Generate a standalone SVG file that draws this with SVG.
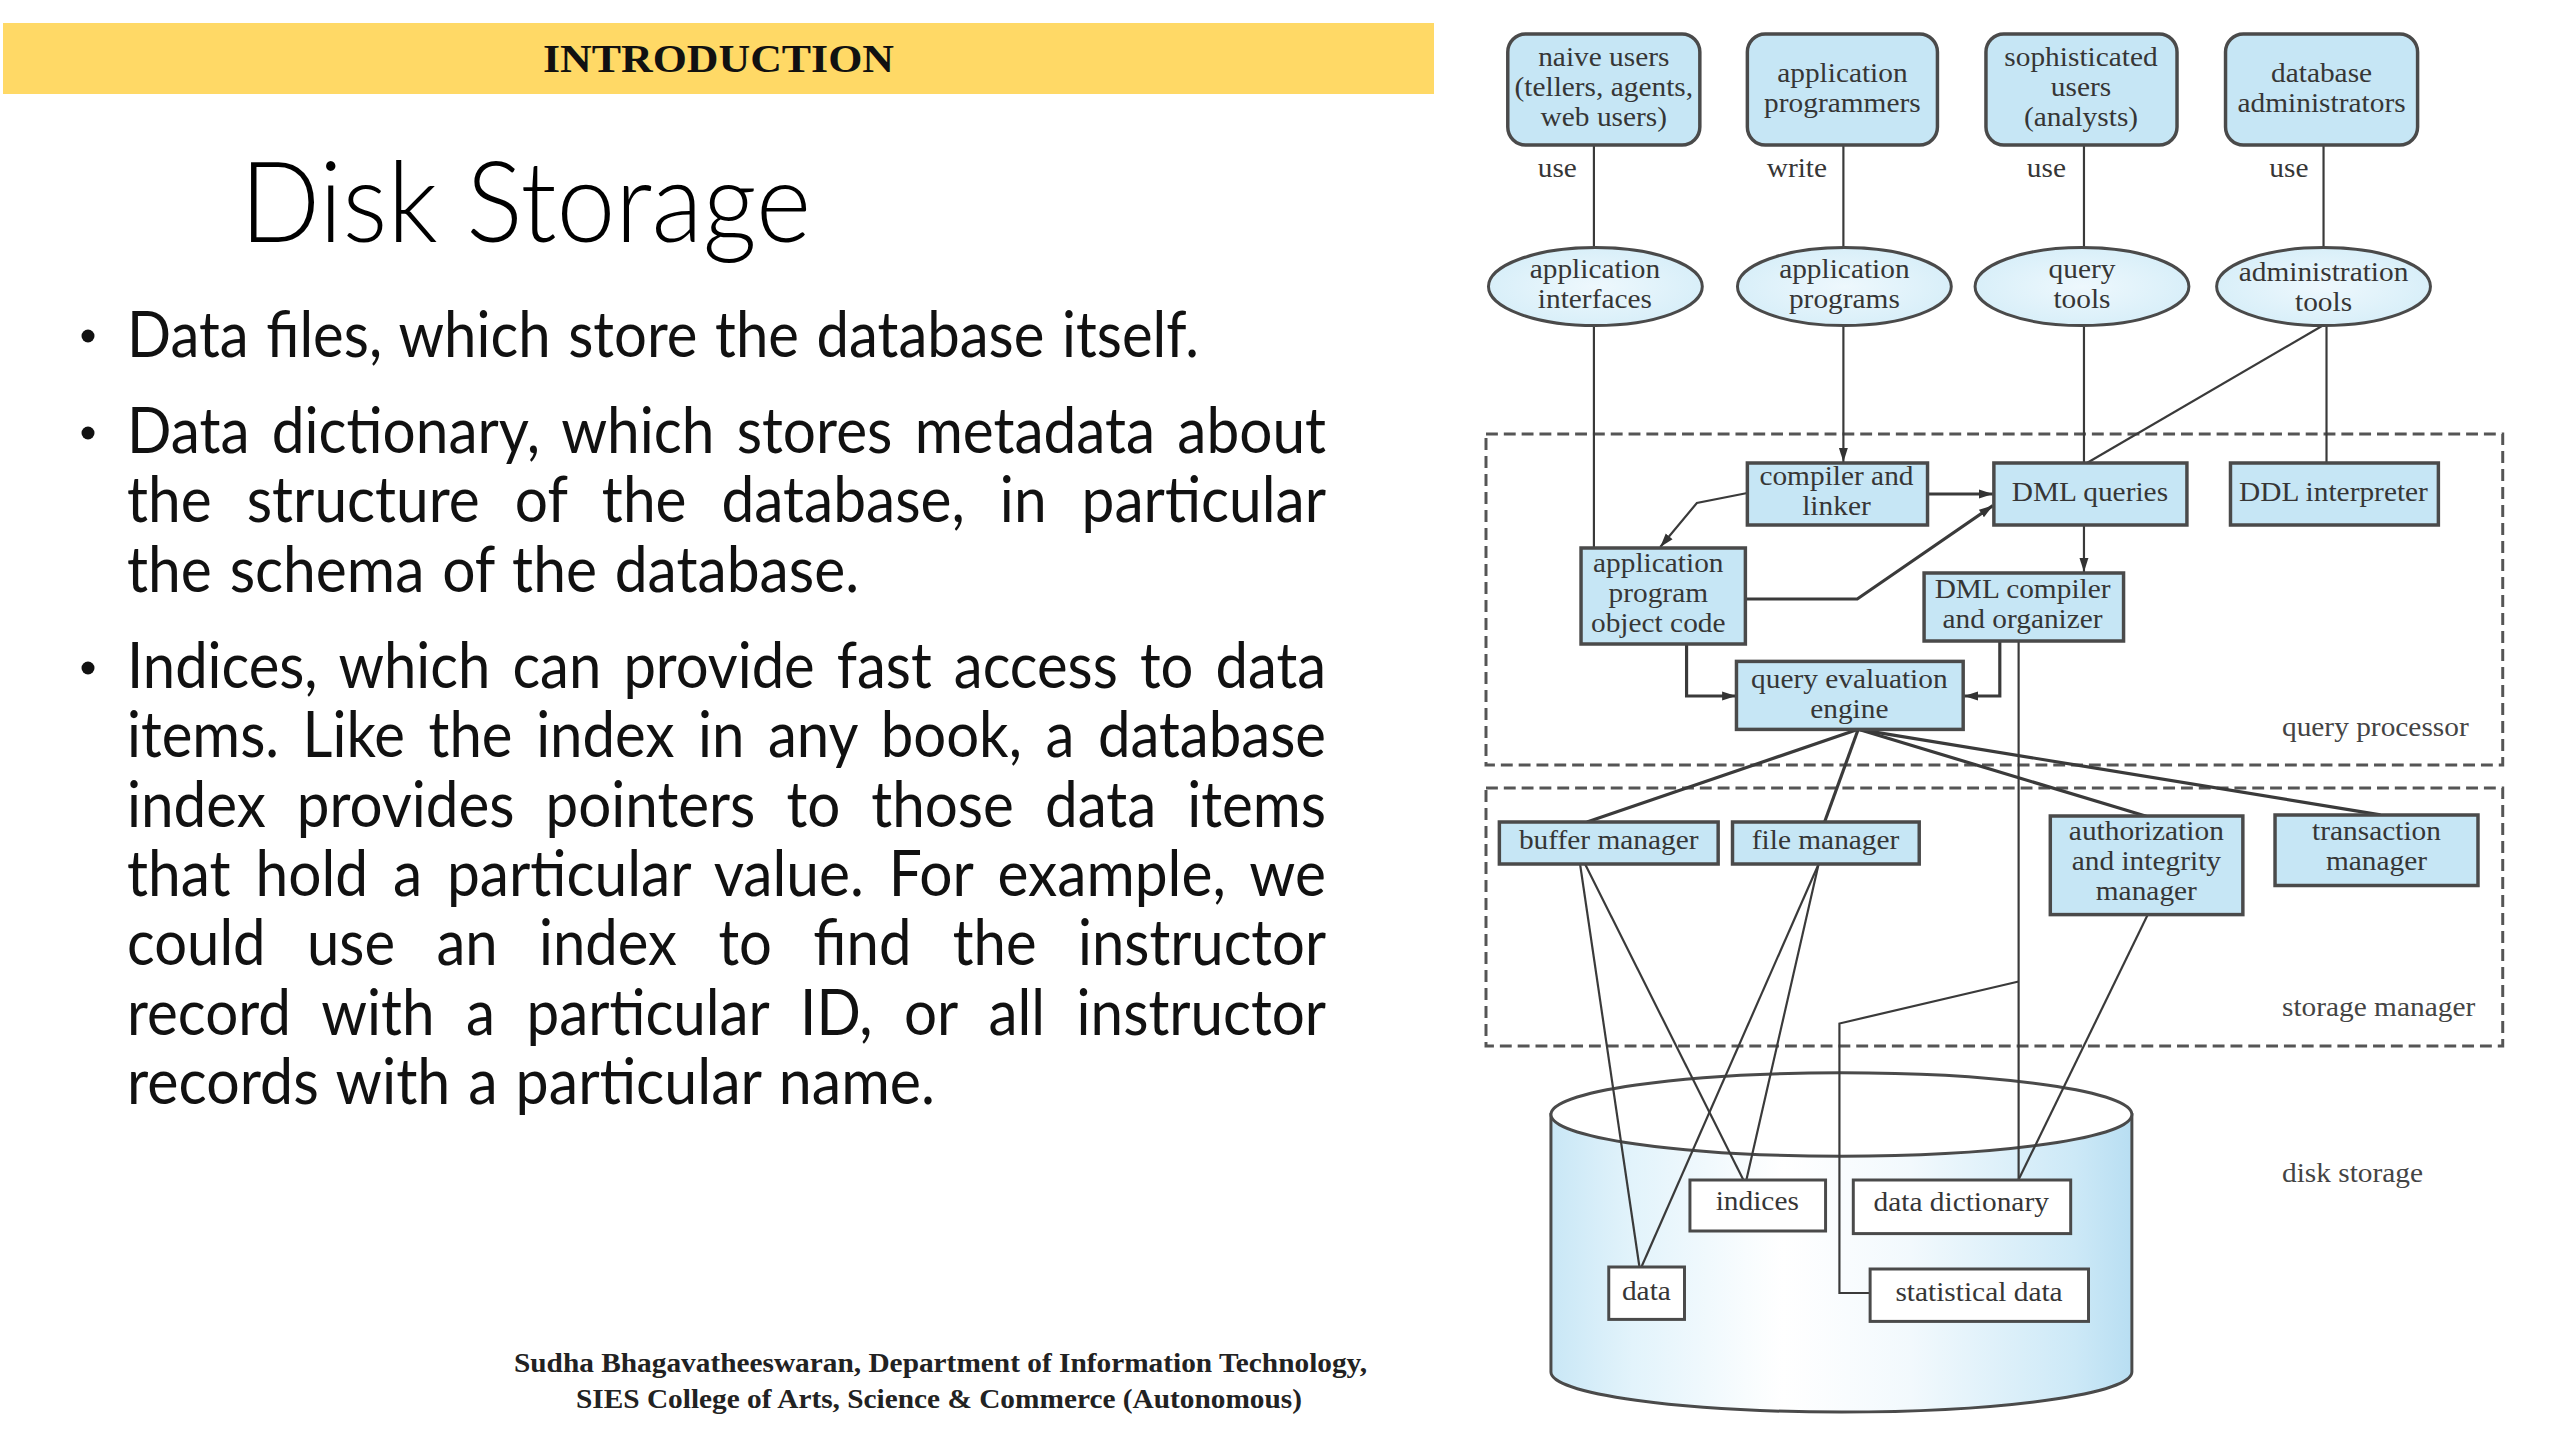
<svg xmlns="http://www.w3.org/2000/svg" width="2560" height="1440" viewBox="0 0 2560 1440">
<defs>
<style>
.body{font-family:Lato,"Open Sans",sans-serif;font-size:63.3px;fill:#111}
.lbl{font-family:"Liberation Serif","Times New Roman",serif;font-size:26.5px;fill:#363636;text-anchor:middle}
.note{font-family:"Liberation Serif","Times New Roman",serif;font-size:26.5px;fill:#444}
.ubox{fill:#c6e6f5;stroke:#4a4a4a;stroke-width:3.5}
.box{fill:#c6e6f5;stroke:#4a4a4a;stroke-width:3.5}
.wbox{fill:#ffffff;stroke:#4a4a4a;stroke-width:3}
.ell{fill:url(#ellg);stroke:#4a4a4a;stroke-width:3}
.dash{fill:none;stroke:#555;stroke-width:3;stroke-dasharray:12 6}
.ln{fill:none;stroke:#3a3a3a;stroke-width:2.2}
.lnb{fill:none;stroke:#3a3a3a;stroke-width:3.2}
</style>
<marker id="arr" markerUnits="userSpaceOnUse" markerWidth="14" markerHeight="12" viewBox="0 0 14 12" refX="14" refY="6" orient="auto">
<path d="M0,1.5 L14,6 L0,10.5 z" fill="#333"/>
</marker>
<linearGradient id="cylg" x1="0" y1="0" x2="1" y2="0">
<stop offset="0" stop-color="#c9e7f6"/>
<stop offset="0.14" stop-color="#e2f3fb"/>
<stop offset="0.4" stop-color="#ffffff"/>
<stop offset="0.62" stop-color="#f2f9fd"/>
<stop offset="0.9" stop-color="#cde9f7"/>
<stop offset="1" stop-color="#b8def2"/>
</linearGradient>
<radialGradient id="ellg" cx="0.5" cy="0.5" r="0.6">
<stop offset="0" stop-color="#eef8fd"/>
<stop offset="1" stop-color="#d4edf8"/>
</radialGradient>
</defs>
<rect x="0" y="0" width="2560" height="1440" fill="#ffffff"/>

<g id="header">
<rect x="3" y="23" width="1431" height="71" fill="#ffd966"/>
<text x="543" y="72" textLength="351" lengthAdjust="spacingAndGlyphs" style="font-family:'Liberation Serif','Times New Roman',serif;font-size:40px;font-weight:bold;fill:#111">INTRODUCTION</text>
</g>

<g id="title">
<text x="240" y="242" textLength="571" lengthAdjust="spacingAndGlyphs" style="font-family:Lato,'Open Sans',sans-serif;font-weight:300;font-size:112px;fill:#000">Disk Storage</text>
</g>

<g id="bullets">
<circle cx="88" cy="336" r="6.5" fill="#111"/>
<circle cx="88" cy="433" r="6.5" fill="#111"/>
<circle cx="88" cy="668" r="6.5" fill="#111"/>
<text class="body" x="127" y="356.6" textLength="1072" lengthAdjust="spacingAndGlyphs" word-spacing="3">Data files, which store the database itself.</text>
<text class="body" x="127" y="452.8" textLength="1199" lengthAdjust="spacingAndGlyphs" word-spacing="7.9">Data dictionary, which stores metadata about</text>
<text class="body" x="127" y="522.2" textLength="1199" lengthAdjust="spacingAndGlyphs" word-spacing="21.6">the structure of the database, in particular</text>
<text class="body" x="127" y="591.6" textLength="732" lengthAdjust="spacingAndGlyphs" word-spacing="3">the schema of the database.</text>
<text class="body" x="127" y="687.8" textLength="1199" lengthAdjust="spacingAndGlyphs" word-spacing="8">Indices, which can provide fast access to data</text>
<text class="body" x="127" y="757.2" textLength="1199" lengthAdjust="spacingAndGlyphs" word-spacing="9.5">items. Like the index in any book, a database</text>
<text class="body" x="127" y="826.6" textLength="1199" lengthAdjust="spacingAndGlyphs" word-spacing="17.5">index provides pointers to those data items</text>
<text class="body" x="127" y="896" textLength="1199" lengthAdjust="spacingAndGlyphs" word-spacing="10.6">that hold a particular value. For example, we</text>
<text class="body" x="127" y="965.4" textLength="1199" lengthAdjust="spacingAndGlyphs" word-spacing="29">could use an index to find the instructor</text>
<text class="body" x="127" y="1034.8" textLength="1199" lengthAdjust="spacingAndGlyphs" word-spacing="18">record with a particular ID, or all instructor</text>
<text class="body" x="127" y="1104.2" textLength="808" lengthAdjust="spacingAndGlyphs" word-spacing="3">records with a particular name.</text>
</g>

<g id="footer" style="font-family:'Liberation Serif','Times New Roman',serif;font-size:27px;font-weight:bold;fill:#222">
<text x="514" y="1372" textLength="853" lengthAdjust="spacingAndGlyphs">Sudha Bhagavatheeswaran, Department of Information Technology,</text>
<text x="576" y="1408" textLength="726" lengthAdjust="spacingAndGlyphs">SIES College of Arts, Science &amp; Commerce (Autonomous)</text>
</g>

<g id="diagram" transform="matrix(0.99 0 0 1 4.96 0)">
<g id="query-processor">
<rect class="dash" x="1496" y="434" width="1027" height="331"/>
<text class="note" transform="matrix(1.12 0 0 1 2300 0)" x="0" y="736">query processor</text>
</g>
<g id="storage-manager">
<rect class="dash" x="1496" y="788" width="1027" height="258"/>
<text class="note" transform="matrix(1.12 0 0 1 2300 0)" x="0" y="1016">storage manager</text>
</g>

<g id="disk-storage">
<path d="M1561.6,1114.5 V1372 A293.4,40 0 0 0 2148.4,1372 V1114.5 Z" fill="url(#cylg)" stroke="#4a4a4a" stroke-width="3"/>
<ellipse cx="1855" cy="1114.5" rx="293.4" ry="41.7" fill="#ffffff" stroke="#4a4a4a" stroke-width="3"/>
<text class="note" transform="matrix(1.12 0 0 1 2300 0)" x="0" y="1182">disk storage</text>
</g>

<g id="connectors">
<path class="ln" d="M1605,145 V248"/>
<path class="ln" d="M1857,145 V248"/>
<path class="ln" d="M2100,145 V248"/>
<path class="ln" d="M2342,145 V248"/>
<path class="ln" d="M1605,325.6 V547.6"/>
<path class="ln" d="M1857,325.6 V462" marker-end="url(#arr)"/>
<path class="ln" d="M2100,325.6 V463"/>
<path class="ln" d="M2343,324.5 L2103,463"/>
<path class="ln" d="M2345,325.6 V463"/>
<path class="lnb" d="M1942,494 H2008" marker-end="url(#arr)"/>
<path class="ln" d="M1760,493 L1709,503 L1672,547" marker-end="url(#arr)"/>
<path class="lnb" d="M1758,599 H1871 L2008,505.6" marker-end="url(#arr)"/>
<path class="ln" d="M2100,525 V572" marker-end="url(#arr)"/>
<path class="lnb" d="M1698.6,644 V696 H1748.5" marker-end="url(#arr)"/>
<path class="lnb" d="M2015,641 V696 H1979" marker-end="url(#arr)"/>
<path class="ln" d="M2034,641 V1179.6"/>
<path class="ln" d="M2034,981.5 L1853,1023.5 V1293 H1884"/>
<path class="lnb" d="M1872,729.3 L1598,822"/>
<path class="lnb" d="M1872,729.3 L1838,822"/>
<path class="lnb" d="M1872,729.3 L2163,816.3"/>
<path class="lnb" d="M1872,729.3 L2399.5,814.8"/>
<path class="ln" d="M1591,864 L1651,1267"/>
<path class="ln" d="M1596,864 L1756,1180"/>
<path class="ln" d="M1832,864 L1653,1267"/>
<path class="ln" d="M1832,864 L1759,1180"/>
<path class="ln" d="M2164.5,914.6 L2034,1179.6"/>
</g>

<g id="labels">
<text class="lbl" transform="matrix(1.12 0 0 1 1568 0)" x="0" y="177">use</text>
<text class="lbl" transform="matrix(1.12 0 0 1 1810 0)" x="0" y="177">write</text>
<text class="lbl" transform="matrix(1.12 0 0 1 2062 0)" x="0" y="177">use</text>
<text class="lbl" transform="matrix(1.12 0 0 1 2307 0)" x="0" y="177">use</text>
</g>

<g id="naive-users">
<rect class="ubox" x="1518" y="34" width="194" height="111" rx="18"/>
<text class="lbl" transform="matrix(1.12 0 0 1 1615 0)"><tspan x="0" y="66.5">naive users</tspan><tspan x="0" y="96.5">(tellers, agents,</tspan><tspan x="0" y="126.5">web users)</tspan></text>
</g>
<g id="application-programmers">
<rect class="ubox" x="1760" y="34" width="192" height="111" rx="18"/>
<text class="lbl" transform="matrix(1.12 0 0 1 1856 0)"><tspan x="0" y="82.5">application</tspan><tspan x="0" y="112.5">programmers</tspan></text>
</g>
<g id="sophisticated-users">
<rect class="ubox" x="2001" y="34" width="193" height="111" rx="18"/>
<text class="lbl" transform="matrix(1.12 0 0 1 2097 0)"><tspan x="0" y="66.5">sophisticated</tspan><tspan x="0" y="96.5">users</tspan><tspan x="0" y="126.5">(analysts)</tspan></text>
</g>
<g id="database-administrators">
<rect class="ubox" x="2243" y="34" width="194" height="111" rx="18"/>
<text class="lbl" transform="matrix(1.12 0 0 1 2340 0)"><tspan x="0" y="82.5">database</tspan><tspan x="0" y="112.5">administrators</tspan></text>
</g>

<g id="application-interfaces">
<ellipse class="ell" cx="1606.5" cy="286.6" rx="108" ry="39"/>
<text class="lbl" transform="matrix(1.12 0 0 1 1606 0)"><tspan x="0" y="278.5">application</tspan><tspan x="0" y="308.5">interfaces</tspan></text>
</g>
<g id="application-programs">
<ellipse class="ell" cx="1858" cy="286.6" rx="108" ry="39"/>
<text class="lbl" transform="matrix(1.12 0 0 1 1858 0)"><tspan x="0" y="278.5">application</tspan><tspan x="0" y="308.5">programs</tspan></text>
</g>
<g id="query-tools">
<ellipse class="ell" cx="2098" cy="286.6" rx="108" ry="39"/>
<text class="lbl" transform="matrix(1.12 0 0 1 2098 0)"><tspan x="0" y="278.5">query</tspan><tspan x="0" y="308.5">tools</tspan></text>
</g>
<g id="administration-tools">
<ellipse class="ell" cx="2342" cy="286.6" rx="108" ry="39"/>
<text class="lbl" transform="matrix(1.12 0 0 1 2342 0)"><tspan x="0" y="281">administration</tspan><tspan x="0" y="311">tools</tspan></text>
</g>

<g id="compiler-and-linker">
<rect class="box" x="1760" y="463" width="182" height="62"/>
<text class="lbl" transform="matrix(1.12 0 0 1 1850 0)"><tspan x="0" y="485.5">compiler and</tspan><tspan x="0" y="515.5">linker</tspan></text>
</g>
<g id="dml-queries">
<rect class="box" x="2009" y="463" width="195" height="62"/>
<text class="lbl" transform="matrix(1.12 0 0 1 2106 0)" x="0" y="501">DML queries</text>
</g>
<g id="ddl-interpreter">
<rect class="box" x="2248" y="463" width="210" height="62"/>
<text class="lbl" transform="matrix(1.12 0 0 1 2352 0)" x="0" y="501">DDL interpreter</text>
</g>
<g id="application-program-object-code">
<rect class="box" x="1592" y="548" width="166" height="96"/>
<text class="lbl" transform="matrix(1.12 0 0 1 1670 0)"><tspan x="0" y="572">application</tspan><tspan x="0" y="602">program</tspan><tspan x="0" y="632">object code</tspan></text>
</g>
<g id="dml-compiler">
<rect class="box" x="1938.5" y="573" width="201.5" height="68"/>
<text class="lbl" transform="matrix(1.12 0 0 1 2038 0)"><tspan x="0" y="598.5">DML compiler</tspan><tspan x="0" y="628.5">and organizer</tspan></text>
</g>
<g id="query-evaluation-engine">
<rect class="box" x="1749" y="661.4" width="229" height="68"/>
<text class="lbl" transform="matrix(1.12 0 0 1 1863 0)"><tspan x="0" y="688.5">query evaluation</tspan><tspan x="0" y="718.5">engine</tspan></text>
</g>

<g id="buffer-manager">
<rect class="box" x="1509.5" y="822" width="221" height="42"/>
<text class="lbl" transform="matrix(1.12 0 0 1 1620 0)" x="0" y="849">buffer manager</text>
</g>
<g id="file-manager">
<rect class="box" x="1745" y="822" width="188.6" height="42"/>
<text class="lbl" transform="matrix(1.12 0 0 1 1839 0)" x="0" y="849">file manager</text>
</g>
<g id="authorization-manager">
<rect class="box" x="2066" y="816" width="194.5" height="98.6"/>
<text class="lbl" transform="matrix(1.12 0 0 1 2163 0)"><tspan x="0" y="840.5">authorization</tspan><tspan x="0" y="870.5">and integrity</tspan><tspan x="0" y="900.5">manager</tspan></text>
</g>
<g id="transaction-manager">
<rect class="box" x="2293" y="815" width="205" height="70.5"/>
<text class="lbl" transform="matrix(1.12 0 0 1 2395.5 0)"><tspan x="0" y="840.5">transaction</tspan><tspan x="0" y="870.5">manager</tspan></text>
</g>

<g id="indices">
<rect class="wbox" x="1702" y="1180" width="137" height="51"/>
<text class="lbl" transform="matrix(1.12 0 0 1 1770 0)" x="0" y="1210">indices</text>
</g>
<g id="data-dictionary">
<rect class="wbox" x="1867" y="1180" width="219.6" height="53.6"/>
<text class="lbl" transform="matrix(1.12 0 0 1 1976 0)" x="0" y="1211">data dictionary</text>
</g>
<g id="data">
<rect class="wbox" x="1620" y="1267" width="76.5" height="52.4"/>
<text class="lbl" transform="matrix(1.12 0 0 1 1658 0)" x="0" y="1300">data</text>
</g>
<g id="statistical-data">
<rect class="wbox" x="1884" y="1269" width="220.6" height="52.4"/>
<text class="lbl" transform="matrix(1.12 0 0 1 1994 0)" x="0" y="1301">statistical data</text>
</g>
</g>
</svg>
